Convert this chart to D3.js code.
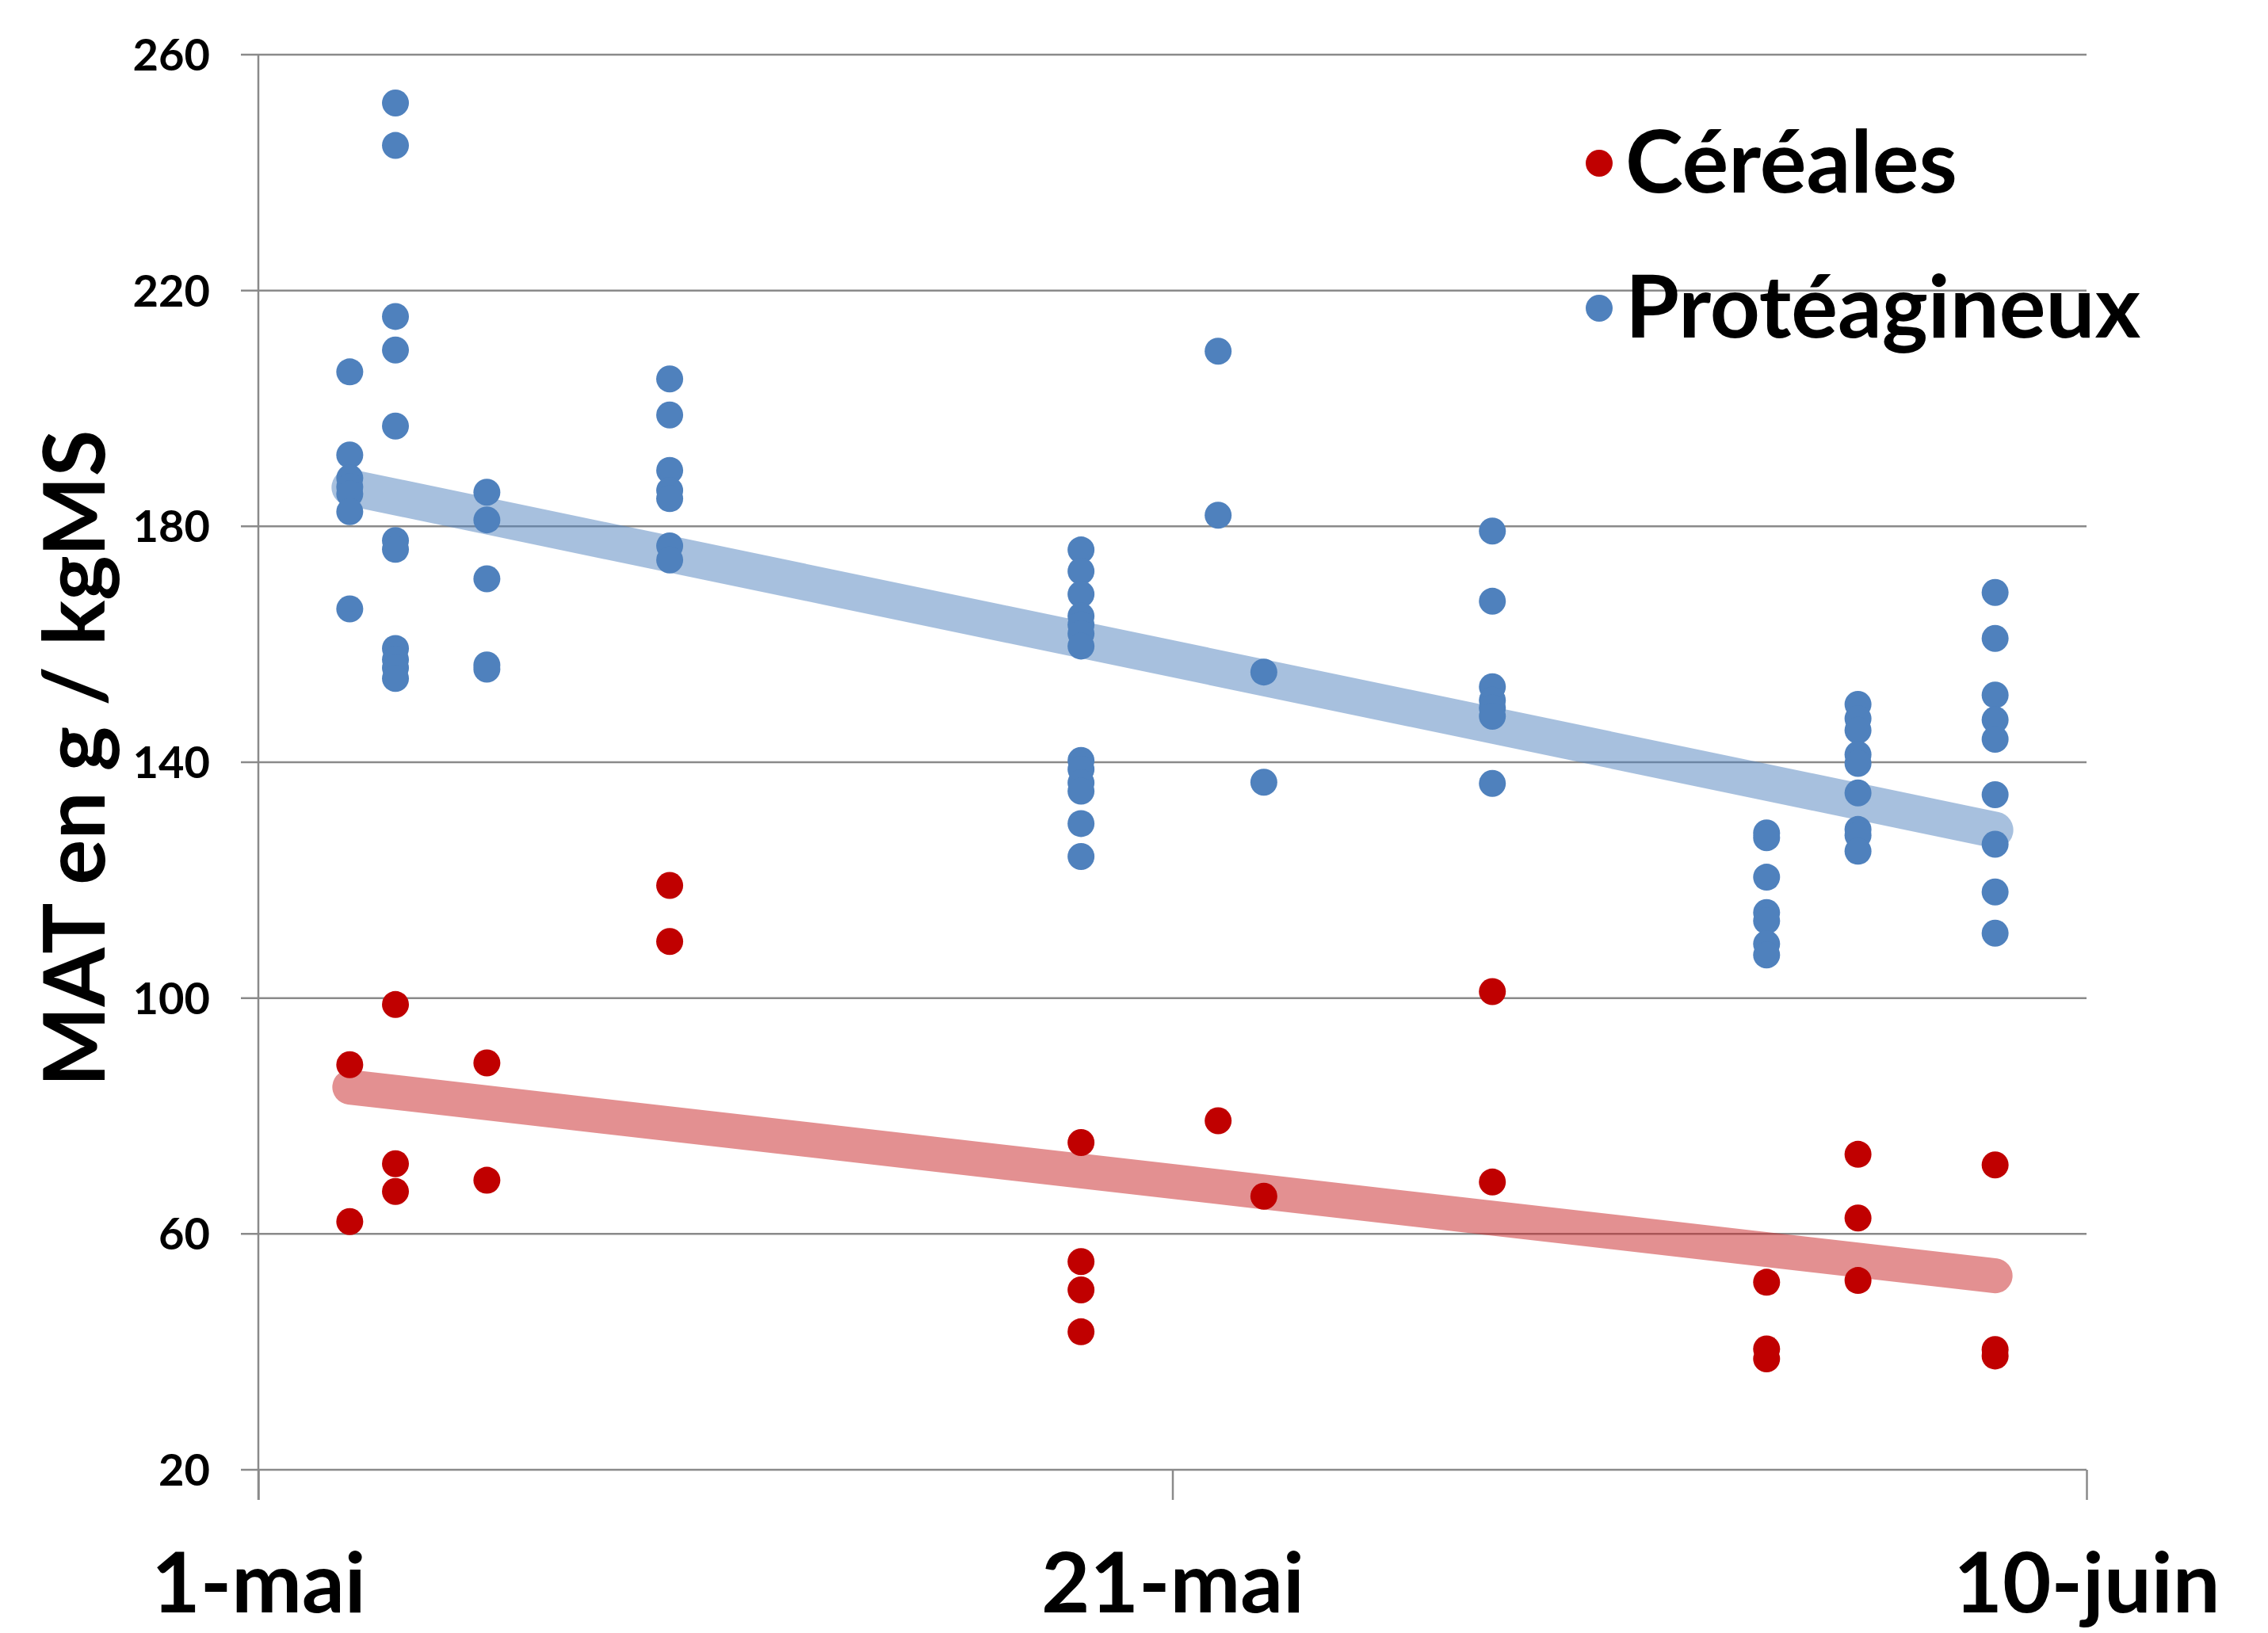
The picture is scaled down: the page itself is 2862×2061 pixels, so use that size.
<!DOCTYPE html>
<html>
<head>
<meta charset="utf-8">
<script src="https://cdn.jsdelivr.net/npm/d3@7"></script>
<style>
  body { margin: 0; background: #fff; }
  text { font-family: Lato, "Open Sans", sans-serif; font-weight: bold; fill: #000; }
</style>
</head>
<body>
<svg id="chart" width="2862" height="2061"></svg>
<script>
// dates de prélèvement
const dates = ['2013-05-03', '2013-05-04', '2013-05-06', '2013-05-10', '2013-05-19',
  '2013-05-22', '2013-05-23', '2013-05-28', '2013-06-03', '2013-06-05', '2013-06-08'];

// MAT (g / kgMS) par date
const cereales = [
  [88.7, 62.1],
  [98.9, 71.9, 67.2],
  [89, 69.1],
  [119.1, 109.6],
  [75.5, 55.3, 50.5, 43.4],
  [79.2],
  [66.4],
  [101.1, 68.8],
  [51.8, 40.5, 38.8],
  [73.5, 62.7, 52.1],
  [71.7, 40.4, 39.3],
];
const proteagineux = [
  [206.2, 192.1, 188.2, 186.7, 185.5, 182.5, 166],
  [251.8, 244.6, 215.6, 209.9, 197, 177.6, 176.1, 159.3, 157.4, 156, 154.2],
  [185.8, 181.1, 171.1, 156.5, 155.8],
  [205, 198.9, 189.5, 186.1, 184.7, 176.7, 174.3],
  [176, 172.4, 168.5, 164.8, 163.3, 161.8, 159.7, 140.3, 138.8, 136.5, 135.1, 129.6, 124],
  [209.7, 181.9],
  [155.3, 136.6],
  [179.2, 167.3, 152.8, 150.5, 149.2, 147.8, 136.4],
  [128, 127.2, 120.5, 114.5, 113.1, 109.2, 107.3],
  [149.8, 147.4, 145.4, 141.3, 139.8, 134.8, 128.6, 127.6, 124.9],
  [168.8, 161, 151.4, 147.2, 143.9, 134.5, 126.1, 118, 111],
];

// courbes de tendance (début, fin)
const trendDates = ['2013-05-03', '2013-06-08'];
const trendCereales = [84.9, 52.9];
const trendProteagineux = [186.6, 128.5];

const yTicks = [20, 60, 100, 140, 180, 220, 260];
const xTickDates = ['2013-05-01', '2013-05-21', '2013-06-10'];
const xTickLabels = ['1-mai', '21-mai', '10-juin'];
const seriesNames = ['Céréales', 'Protéagineux'];

const colors = { cer: '#C00000', pro: '#4F81BD', cerTrend: '#C72123', proTrend: '#4F81BD' };
const parse = d3.timeParse('%Y-%m-%d');

const margin = { left: 326, top: 69 };
const width = 2307;
const height = 1786;

const svg = d3.select('#chart');
const g = svg.append('g').attr('transform', `translate(${margin.left},${margin.top})`);

const x = d3.scaleTime()
  .domain([parse(xTickDates[0]), parse(xTickDates[2])])
  .range([0, width]);
const y = d3.scaleLinear().domain([20, 260]).range([height, 0]);

// grille horizontale
g.append('g')
  .selectAll('line')
  .data(yTicks)
  .join('line')
  .attr('x1', -22)
  .attr('x2', width)
  .attr('y1', d => y(d))
  .attr('y2', d => y(d))
  .attr('stroke', '#8a8a8a')
  .attr('stroke-width', 2.5);

// axe vertical
g.append('line')
  .attr('x1', 0).attr('x2', 0)
  .attr('y1', 0).attr('y2', height + 38)
  .attr('stroke', '#8a8a8a')
  .attr('stroke-width', 2.5);

const yAxis = g.append('g')
  .call(d3.axisLeft(y).tickValues(yTicks).tickSize(0).tickPadding(61));
yAxis.select('.domain').remove();
yAxis.selectAll('text')
  .attr('font-size', 56)
  .attr('font-family', null)
  .attr('dy', '0.35em');

const xAxis = g.append('g')
  .attr('transform', `translate(0,${height})`)
  .call(d3.axisBottom(x)
    .tickValues(xTickDates.map(parse))
    .tickFormat((d, i) => xTickLabels[i])
    .tickSize(38));
xAxis.select('.domain').remove();
xAxis.selectAll('line').attr('stroke', '#8a8a8a').attr('stroke-width', 2.5);
xAxis.selectAll('text')
  .attr('font-size', 106)
  .attr('font-family', null)
  .attr('y', 180)
  .attr('dy', 0);

// tendances
const trendLine = vals => d3.line()
  .x((d, i) => x(parse(trendDates[i])))
  .y(d => y(d))(vals);

g.append('path')
  .attr('d', trendLine(trendCereales))
  .attr('fill', 'none')
  .attr('stroke', colors.cerTrend)
  .attr('stroke-opacity', 0.5)
  .attr('stroke-width', 44)
  .attr('stroke-linecap', 'round');

g.append('path')
  .attr('d', trendLine(trendProteagineux))
  .attr('fill', 'none')
  .attr('stroke', colors.proTrend)
  .attr('stroke-opacity', 0.5)
  .attr('stroke-width', 46)
  .attr('stroke-linecap', 'round');

// points
function flatten(series) {
  const out = [];
  series.forEach((vals, i) => vals.forEach(v => out.push({ date: parse(dates[i]), v })));
  return out;
}

g.append('g')
  .selectAll('circle')
  .data(flatten(cereales))
  .join('circle')
  .attr('cx', d => x(d.date))
  .attr('cy', d => y(d.v))
  .attr('r', 17)
  .attr('fill', colors.cer);

g.append('g')
  .selectAll('circle')
  .data(flatten(proteagineux))
  .join('circle')
  .attr('cx', d => x(d.date))
  .attr('cy', d => y(d.v))
  .attr('r', 17)
  .attr('fill', colors.pro);

// titre axe Y
svg.append('text')
  .attr('transform', 'translate(132,957) rotate(-90)')
  .attr('text-anchor', 'middle')
  .attr('font-size', 107)
  .text('MAT en g / kgMS');

// légende
const legend = svg.append('g').attr('transform', 'translate(2018,206)');
const legendColors = [colors.cer, colors.pro];
seriesNames.forEach((name, i) => {
  const row = legend.append('g').attr('transform', `translate(0,${i * 183})`);
  row.append('circle').attr('r', 17).attr('fill', legendColors[i]);
  row.append('text')
    .attr('x', 33)
    .attr('y', 37)
    .attr('font-size', 110)
    .text(name);
});
</script>
</body>
</html>
